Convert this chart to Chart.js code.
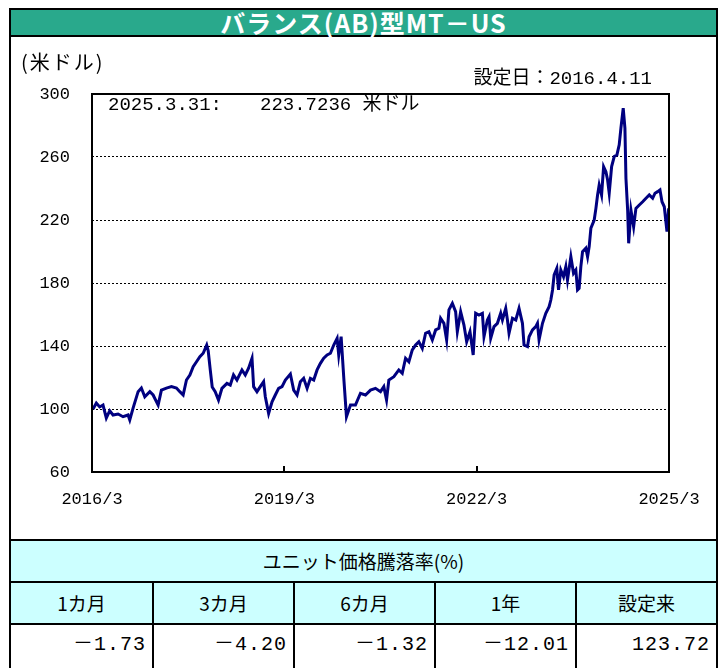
<!DOCTYPE html>
<html>
<head>
<meta charset="utf-8">
<script src="https://cdn.jsdelivr.net/npm/chart.js@4.4.1/dist/chart.umd.min.js"></script>
<style>
  html, body { margin: 0; padding: 0; }
  body { width: 727px; height: 668px; background: #fff; position: relative; overflow: hidden;
         font-family: "Noto Sans CJK JP", sans-serif; color: #000; }
  .abs { position: absolute; box-sizing: border-box; }
  #frame { left: 9px; top: 8px; width: 709px; height: 680px; border: 2px solid #000; }
  #title { left: 11px; top: 10px; width: 705px; height: 27px; background: #29a98c; color: #fff;
           font-weight: bold; font-size: 25px; line-height: 25px; text-align: center; letter-spacing: 1px;
           border-bottom: 2px solid #000; }
  #chartWrap { left: 0; top: 37px; width: 727px; height: 502px; }
  .mono { font-family: "Liberation Mono", "Noto Sans CJK JP", monospace; }
  .lbl { font-size: 19px; line-height: 22px; white-space: pre; z-index: 2; }
  .cell { border: 2px solid #000; background: #ccffff; text-align: center; font-size: 19px; white-space: pre; }
  .val { background: #fff; text-align: right; padding-right: 6px; font-size: 20px; letter-spacing: 1px; }
</style>
</head>
<body>
<div id="frame" class="abs"></div>
<div id="title" class="abs"></div>
<div id="chartWrap" class="abs"><canvas id="c" width="727" height="502"></canvas></div>
<div id="unit" class="abs lbl" style="left:21px;top:51px;font-size:20px;letter-spacing:2px;"></div>
<div id="setDate" class="abs lbl mono" style="right:75px;top:68px;"></div>
<div id="lastDate" class="abs lbl mono" style="left:108px;top:94px;"></div>
<div id="lastVal" class="abs lbl mono" style="left:260px;top:94px;"></div>
<div id="table"></div>
<script>
// ---- text ----
const titleText = "バランス(AB)型MT－US";
const unitText = "(米ドル)";
const setDateText = "設定日：2016.4.11";
const lastDateText = "2025.3.31:";
const lastValue = 223.7236;
const lastValueUnit = "米ドル";

// ---- series: months since 2016/3, unit price (USD) ----
const months = [
  0.2,0.81,1.44,2.06,2.68,3.32,3.94,4.88,5.81,6.75,
  7.07,7.69,8.63,9.24,9.88,10.82,11.44,12.38,12.99,13.93,
  14.87,15.81,16.44,17.06,17.68,18.32,18.94,19.56,20.19,20.81,
  21.47,21.75,22.13,22.5,23.06,23.68,24.32,25.26,25.88,26.49,
  27.13,28.07,28.69,29.31,29.95,30.25,30.88,31.5,32.12,32.44,
  33.06,33.7,34.31,34.93,35.57,36.19,37.13,37.75,38.38,39.0,
  39.62,40.26,40.88,41.5,42.13,42.75,43.37,44.01,44.63,45.25,
  45.88,46.18,46.63,47.16,47.63,48.38,49.31,50.25,51.19,52.13,
  53.06,54.0,54.62,55.13,55.56,56.5,57.43,58.07,58.69,59.31,
  59.95,60.57,61.18,61.82,62.44,63.06,63.7,64.32,64.93,65.25,
  65.87,66.38,66.81,67.45,68.06,68.38,69.0,69.62,70.13,70.75,
  71.35,71.81,72.43,73.07,73.37,74.01,74.32,74.63,75.25,75.88,
  76.5,76.82,77.44,77.76,78.06,78.7,79.32,79.93,80.57,80.87,
  81.51,81.81,82.45,83.06,83.38,83.68,84.32,84.94,85.56,85.88,
  86.2,86.5,87.0,87.32,87.75,88.26,88.69,89.0,89.63,90.13,
  90.56,90.88,91.18,91.5,91.82,92.44,92.76,93.06,93.38,94.0,
  94.32,94.63,94.93,95.38,95.76,96.19,96.51,96.81,97.26,97.75,
  98.25,98.68,99.0,99.43,99.75,99.94,100.26,100.45,100.88,101.38,
  101.81,102.44,103.07,103.69,104.31,104.94,105.38,105.88,106.31,106.69,
  107.12,107.62,107.94,108.0
];
const prices = [
  100.0,103.8,101.3,102.5,94.3,98.9,96.2,96.8,95.1,96.2,
  93.0,100.6,111.0,113.3,107.8,111.0,108.9,102.5,112.0,113.3,
  114.2,113.3,111.0,108.9,118.4,121.6,126.9,130.0,133.2,135.4,
  140.6,137.0,125.0,114.0,111.0,105.7,113.1,116.3,115.2,121.6,
  118.4,124.8,121.6,125.9,132.2,114.2,111.0,114.2,117.3,107.8,
  97.2,104.6,108.9,113.1,114.2,118.4,122.2,112.0,108.9,117.3,
  119.5,113.1,119.5,118.4,124.8,129.0,132.2,134.3,135.4,140.6,
  144.9,134.3,145.9,118.0,95.1,102.5,102.5,110.0,108.9,112.0,
  113.1,111.0,114.2,105.7,118.4,120.5,124.8,122.7,132.2,130.0,
  137.5,140.6,142.7,138.5,148.1,149.1,143.8,150.2,151.2,157.6,
  154.4,143.8,162.9,167.1,161.8,149.1,161.8,153.3,142.7,149.1,
  134.3,160.8,159.7,160.8,145.9,156.5,158.6,144.9,152.3,154.4,
  160.8,156.5,163.9,156.5,148.1,157.6,156.5,163.9,154.4,140.6,
  139.6,145.9,150.2,152.3,154.4,143.8,154.4,160.8,165.0,169.2,
  175.6,185.1,189.3,175.6,188.3,184.0,190.4,181.9,196.7,186.2,
  188.3,175.6,176.6,190.4,199.9,202.1,196.7,203.1,214.8,220.0,
  227.4,235.9,242.2,235.9,253.9,250.7,245.4,237.0,253.9,260.3,
  261.3,267.7,278.3,291.0,278.3,246.5,226.3,205.2,226.3,215.7,
  227.4,229.5,231.6,233.8,235.9,233.8,237.0,238.0,239.1,231.6,
  228.4,212.6,227.4,223.7
];

// ---- axes ----
const xTickMonths = [0, 36, 72, 108];
const xTickLabels = ["2016/3", "2019/3", "2022/3", "2025/3"];
const yTicks = [60, 100, 140, 180, 220, 260, 300];

// ---- table ----
const tableTitle = "ユニット価格騰落率(%)";
const periodLabels = ["1カ月", "3カ月", "6カ月", "1年", "設定来"];
const periodValues = ["－1.73", "－4.20", "－1.32", "－12.01", "123.72"];

// texts
document.getElementById("title").textContent = titleText;
document.getElementById("unit").textContent = unitText;
document.getElementById("setDate").textContent = setDateText;
document.getElementById("lastDate").textContent = lastDateText;
document.getElementById("lastVal").textContent = lastValue.toFixed(4) + " " + lastValueUnit;

// table layout
(function () {
  const cols = [10, 153, 294, 435, 576, 717];
  const rows = [540, 582, 624, 672];
  const t = document.getElementById("table");
  function cell(x0, x1, y0, y1, text, cls) {
    const d = document.createElement("div");
    d.className = "abs cell " + (cls || "");
    d.style.left = (x0 - 1) + "px";
    d.style.top = (y0 - 1) + "px";
    d.style.width = (x1 - x0 + 2) + "px";
    d.style.height = (y1 - y0 + 2) + "px";
    d.style.lineHeight = (y1 - y0 - 2) + "px";
    d.textContent = text;
    t.appendChild(d);
    return d;
  }
  cell(cols[0], cols[5], rows[0], rows[1], tableTitle);
  for (let i = 0; i < 5; i++) {
    cell(cols[i], cols[i + 1], rows[1], rows[2], periodLabels[i]);
    const v = cell(cols[i], cols[i + 1], rows[2], rows[3], periodValues[i], "val mono");
    v.style.lineHeight = "40px";
  }
})();

const framePlugin = {
  id: "framePlugin",
  afterDraw(chart) {
    const { ctx, chartArea: a, scales } = chart;
    ctx.save();
    ctx.strokeStyle = "#000";
    ctx.lineWidth = 2;
    ctx.setLineDash([]);
    ctx.strokeRect(a.left, a.top, a.right - a.left, a.bottom - a.top);
    xTickMonths.slice(1, -1).forEach(v => {
      const x = Math.round(scales.x.getPixelForValue(v));
      ctx.beginPath();
      ctx.moveTo(x, a.bottom);
      ctx.lineTo(x, a.bottom - 6);
      ctx.stroke();
    });
    ctx.restore();
  }
};

const tickFont = { family: "'Liberation Mono', 'Noto Sans CJK JP', monospace", size: 17 };

new Chart(document.getElementById("c"), {
  type: "line",
  data: {
    datasets: [{
      data: months.map((m, i) => ({ x: m, y: prices[i] })),
      borderColor: "#000080",
      borderWidth: 3,
      pointRadius: 0,
      tension: 0,
      fill: false
    }]
  },
  options: {
    responsive: false,
    animation: false,
    devicePixelRatio: 1,
    layout: { padding: { left: 0, right: 58, top: 57, bottom: 0 } },
    plugins: { legend: { display: false }, tooltip: { enabled: false } },
    scales: {
      x: {
        type: "linear",
        min: 0,
        max: 108,
        afterBuildTicks: s => { s.ticks = xTickMonths.map(v => ({ value: v })); },
        afterFit: s => { s.height = 67; },
        grid: { display: false },
        border: { display: false },
        ticks: {
          autoSkip: false, maxRotation: 0, color: "#000", font: tickFont, padding: 9,
          callback: v => xTickLabels[xTickMonths.indexOf(v)]
        }
      },
      y: {
        min: 60,
        max: 300,
        afterBuildTicks: s => { s.ticks = yTicks.map(v => ({ value: v })); },
        afterFit: s => { s.width = 92; },
        grid: { color: "#000", lineWidth: 1, drawTicks: false },
        border: { display: false, dash: [2, 2] },
        ticks: { color: "#000", font: tickFont, padding: 22 }
      }
    }
  },
  plugins: [framePlugin]
});
</script>
</body>
</html>
